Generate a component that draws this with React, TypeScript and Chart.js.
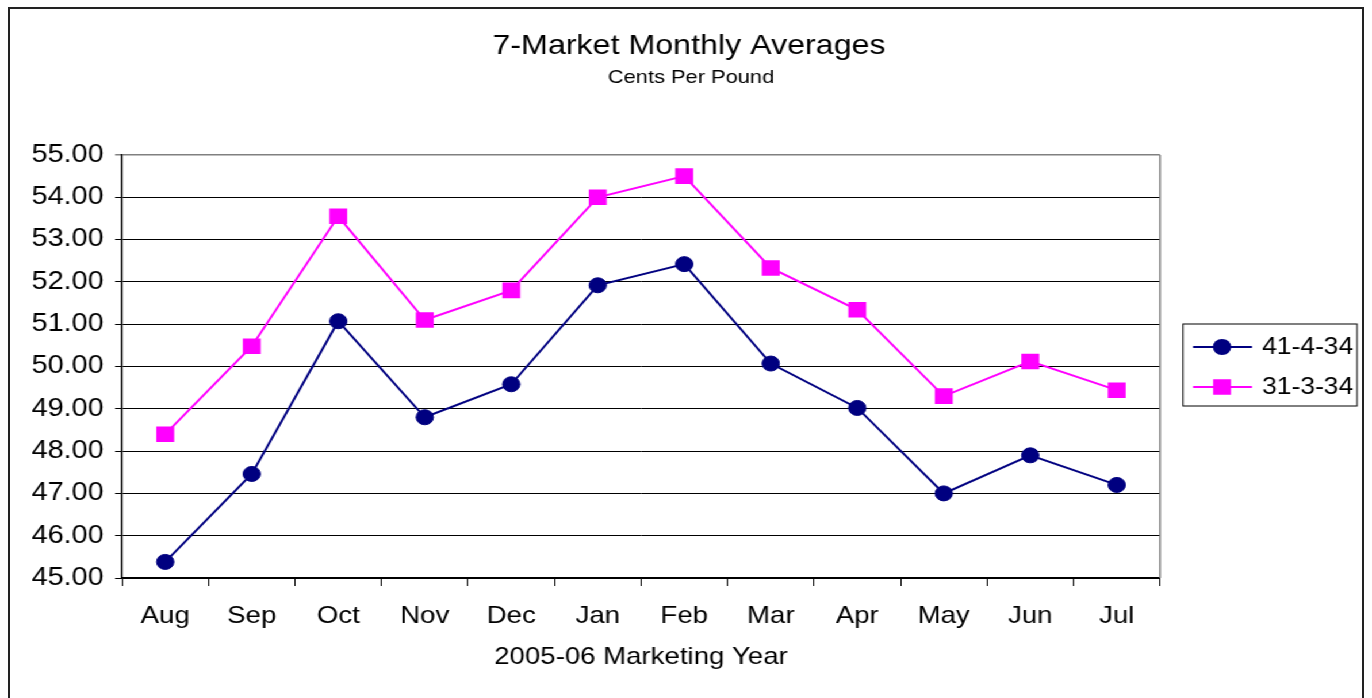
import React, { useEffect, useRef } from 'react';
import { Chart, registerables } from 'chart.js';

Chart.register(...registerables);

// ---- data ----
const months = ['Aug', 'Sep', 'Oct', 'Nov', 'Dec', 'Jan', 'Feb', 'Mar', 'Apr', 'May', 'Jun', 'Jul'];
const series41 = [45.38, 47.46, 51.07, 48.8, 49.58, 51.92, 52.42, 50.07, 49.02, 47.0, 47.9, 47.2];
const series31 = [48.4, 50.48, 53.55, 51.1, 51.8, 54.0, 54.5, 52.33, 51.34, 49.3, 50.12, 49.44];
const seriesLabels = ['41-4-34', '31-3-34'];
const seriesColors = ['#000080', '#FF00FF'];
const yMin = 45;
const yMax = 55;
const yStep = 1;
const titleText = '7-Market Monthly Averages';
const subtitleText = 'Cents Per Pound';
const xTitleText = '2005-06 Marketing Year';

const FONT = '"Liberation Sans", Arial, Helvetica, sans-serif';
const STRETCH = 1.15;
const W = Math.round(1372 / STRETCH);
const H = 698;

const extrasPlugin = {
  id: 'extras',
  afterDraw(chart: any) {
    const ctx = chart.ctx;
    const a = chart.chartArea;
    ctx.save();
    // right plot border (gray)
    ctx.strokeStyle = '#808080';
    ctx.lineWidth = 1.5;
    ctx.beginPath();
    ctx.moveTo(a.right, a.top);
    ctx.lineTo(a.right, a.bottom);
    ctx.stroke();

    // titles
    ctx.fillStyle = '#000';
    ctx.textAlign = 'center';
    ctx.textBaseline = 'middle';
    ctx.font = `28px ${FONT}`;
    ctx.fillText(titleText, 689 / STRETCH, 46);
    ctx.font = `19px ${FONT}`;
    ctx.fillText(subtitleText, 691 / STRETCH, 78);

    // legend
    const bx = 1183 / STRETCH;
    const by = 324;
    const bw = (1357 - 1183) / STRETCH;
    const bh = 82;
    ctx.strokeStyle = '#000';
    ctx.lineWidth = 1;
    ctx.strokeRect(bx, by, bw, bh);
    const rows = [347, 387];
    const lx1 = 1193 / STRETCH;
    const lx2 = 1252 / STRETCH;
    const mx = 1222 / STRETCH;
    const tx = 1262 / STRETCH;
    chart.data.datasets.forEach((ds: any, i: number) => {
      const y = rows[i];
      ctx.strokeStyle = ds.borderColor;
      ctx.lineWidth = 2;
      ctx.beginPath();
      ctx.moveTo(lx1, y);
      ctx.lineTo(lx2, y);
      ctx.stroke();
      ctx.fillStyle = ds.borderColor;
      if (ds.pointStyle === 'rect') {
        const s = 15.5;
        ctx.fillRect(mx - s / 2, y - s / 2, s, s);
      } else {
        ctx.beginPath();
        ctx.arc(mx, y, 8, 0, Math.PI * 2);
        ctx.fill();
      }
      ctx.fillStyle = '#000';
      ctx.textAlign = 'left';
      ctx.textBaseline = 'middle';
      ctx.font = `23px ${FONT}`;
      ctx.fillText(ds.label, tx, y + 1);
    });
    ctx.restore();
  },
};

export default function App() {
  const ref = useRef<HTMLCanvasElement | null>(null);

  useEffect(() => {
    if (!ref.current) return;
    const chart = new Chart(ref.current, {
      type: 'line',
      data: {
        labels: months,
        datasets: [
          {
            label: seriesLabels[0],
            data: series41,
            borderColor: seriesColors[0],
            backgroundColor: seriesColors[0],
            borderWidth: 2,
            pointStyle: 'circle',
            pointRadius: 7.5,
            pointBorderWidth: 1,
            pointBackgroundColor: seriesColors[0],
            pointBorderColor: seriesColors[0],
            tension: 0,
          },
          {
            label: seriesLabels[1],
            data: series31,
            borderColor: seriesColors[1],
            backgroundColor: seriesColors[1],
            borderWidth: 2,
            pointStyle: 'rect',
            pointRadius: 11,
            pointBorderWidth: 0,
            pointBackgroundColor: seriesColors[1],
            pointBorderColor: seriesColors[1],
            tension: 0,
          },
        ],
      },
      options: {
        responsive: false,
        animation: false,
        devicePixelRatio: 1,
        layout: {
          padding: { left: 0, top: 155, right: W - 1160 / STRETCH, bottom: 20 },
        },
        plugins: {
          legend: { display: false },
          title: { display: false },
          tooltip: { enabled: false },
        },
        scales: {
          x: {
            type: 'category',
            offset: true,
            grid: {
              offset: true,
              drawOnChartArea: false,
              drawTicks: true,
              tickLength: 8,
              color: '#000',
              lineWidth: 1,
            },
            border: { display: true, color: '#000', width: 1.5 },
            ticks: {
              color: '#000',
              font: { family: FONT, size: 24 },
              padding: 16,
              maxRotation: 0,
              autoSkip: false,
            },
            title: {
              display: true,
              text: xTitleText,
              color: '#000',
              font: { family: FONT, size: 24 },
              padding: { top: 0, bottom: 6 },
            },
            afterFit(scale: any) {
              scale.height = 100;
            },
          },
          y: {
            min: yMin,
            max: yMax,
            grid: {
              color: (c: any) => (c.tick && c.tick.value === yMax ? '#808080' : '#000'),
              lineWidth: (c: any) => (c.tick && c.tick.value === yMax ? 1.5 : 1),
              tickLength: 6,
              drawTicks: true,
            },
            border: { display: true, color: '#000', width: 1.5 },
            ticks: {
              stepSize: yStep,
              color: '#000',
              font: { family: FONT, size: 25 },
              padding: 10,
              callback: (v: any) => Number(v).toFixed(2),
            },
            afterFit(scale: any) {
              scale.width = 122 / STRETCH;
            },
          },
        },
      },
      plugins: [extrasPlugin],
    });
    return () => chart.destroy();
  }, []);

  return (
    <>
      <div
        style={{
          position: 'fixed',
          left: 0,
          top: 0,
          width: W,
          height: H,
          transform: `scaleX(${1372 / W})`,
          transformOrigin: '0 0',
          background: '#fff',
        }}
      >
        <canvas ref={ref} width={W} height={H} style={{ width: W, height: H, display: 'block' }} />
      </div>
      <div
        style={{
          position: 'fixed',
          left: 8,
          top: 7,
          width: 1356,
          height: 720,
          border: '2px solid #222',
          boxSizing: 'border-box',
          pointerEvents: 'none',
        }}
      />
    </>
  );
}
